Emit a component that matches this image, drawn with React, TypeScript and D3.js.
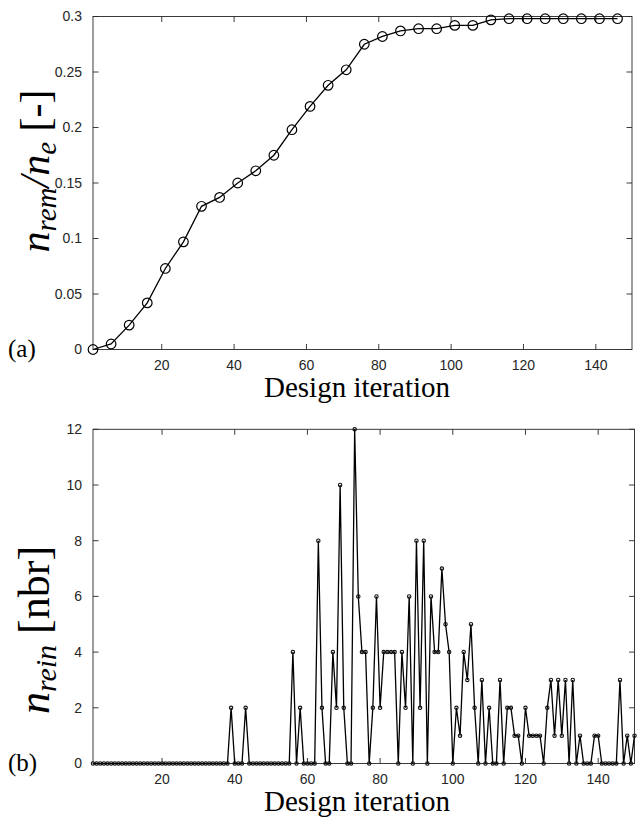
import React from "react";
import * as d3 from "d3";

// ---- Data ----
const topIterations = [1, 6, 11, 16, 21, 26, 31, 36, 41, 46, 51, 56, 61, 66, 71, 76, 81, 86, 91, 96, 101, 106, 111, 116, 121, 126, 131, 136, 141, 146];
const removedRatio = [0, 0.005, 0.022, 0.042, 0.073, 0.097, 0.129, 0.137, 0.15, 0.161, 0.175, 0.198, 0.219, 0.238, 0.252, 0.275, 0.282, 0.287, 0.289, 0.289, 0.292, 0.292, 0.297, 0.298, 0.298, 0.298, 0.298, 0.298, 0.298, 0.298];

const reinCounts = [
  0, 0, 0, 0, 0, 0, 0, 0, 0, 0,
  0, 0, 0, 0, 0, 0, 0, 0, 0, 0,
  0, 0, 0, 0, 0, 0, 0, 0, 0, 0,
  0, 0, 0, 0, 0, 0, 0, 0, 2, 0,
  0, 0, 2, 0, 0, 0, 0, 0, 0, 0,
  0, 0, 0, 0, 0, 4, 0, 2, 0, 0,
  0, 0, 8, 2, 0, 0, 4, 2, 10, 2,
  0, 0, 12, 6, 4, 4, 0, 2, 6, 2,
  4, 4, 4, 4, 0, 4, 2, 6, 0, 8,
  2, 8, 0, 6, 4, 4, 7, 5, 4, 0,
  2, 1, 4, 3, 5, 2, 0, 3, 0, 2,
  0, 0, 3, 0, 2, 2, 1, 1, 0, 2,
  1, 1, 1, 1, 0, 2, 3, 1, 3, 1,
  3, 0, 3, 0, 1, 0, 0, 0, 1, 1,
  0, 0, 0, 0, 0, 3, 0, 1, 0, 1,
];
const reinIterations = reinCounts.map((_, i) => i + 1);

const xTicks = [20, 40, 60, 80, 100, 120, 140];
const topYTicks = [0, 0.05, 0.1, 0.15, 0.2, 0.25, 0.3];
const topYLabels = ["0", "0.05", "0.1", "0.15", "0.2", "0.25", "0.3"];
const botYTicks = [0, 2, 4, 6, 8, 10, 12];

const AX = "#262626";
const TICKFONT = "'Liberation Sans', Arial, sans-serif";
const SERIF = "'Liberation Serif', 'Times New Roman', serif";

type FrameProps = {
  x: d3.ScaleLinear<number, number>;
  y: d3.ScaleLinear<number, number>;
  yTicks: number[];
  yLabels: string[];
};

function Frame({ x, y, yTicks, yLabels }: FrameProps) {
  const [x0, x1] = x.range();
  const [y0, y1] = y.range(); // y0 bottom, y1 top
  const tl = 5.5;
  return (
    <g>
      <rect x={x0} y={y1} width={x1 - x0} height={y0 - y1} fill="none" stroke={AX} strokeWidth={0.9} />
      {xTicks.map((t) => (
        <g key={"x" + t}>
          <line x1={x(t)} x2={x(t)} y1={y0} y2={y0 - tl} stroke={AX} strokeWidth={0.9} />
          <line x1={x(t)} x2={x(t)} y1={y1} y2={y1 + tl} stroke={AX} strokeWidth={0.9} />
          <text x={x(t)} y={y0 + 20} textAnchor="middle" fontFamily={TICKFONT} fontSize={14} fill={AX}>
            {t}
          </text>
        </g>
      ))}
      {yTicks.map((t, i) => (
        <g key={"y" + t}>
          <line x1={x0} x2={x0 + tl} y1={y(t)} y2={y(t)} stroke={AX} strokeWidth={0.9} />
          <line x1={x1} x2={x1 - tl} y1={y(t)} y2={y(t)} stroke={AX} strokeWidth={0.9} />
          <text x={x0 - 11} y={y(t)} dy="0.35em" textAnchor="end" fontFamily={TICKFONT} fontSize={14} fill={AX}>
            {yLabels[i]}
          </text>
        </g>
      ))}
    </g>
  );
}

export default function App() {
  const W = 640;
  const H = 820;

  const xTop = d3.scaleLinear().domain([1, 150]).range([93, 632]);
  const yTop = d3.scaleLinear().domain([0, 0.3]).range([349.5, 16.5]);
  const xBot = d3.scaleLinear().domain([1, 150]).range([93, 634.5]);
  const yBot = d3.scaleLinear().domain([0, 12]).range([763.5, 429.3]);

  const topLine = d3
    .line<number>()
    .x((_, i) => xTop(topIterations[i]))
    .y((d) => yTop(d))(removedRatio) as string;

  const botLine = d3
    .line<number>()
    .x((_, i) => xBot(reinIterations[i]))
    .y((d) => yBot(d))(reinCounts) as string;

  return (
    <svg width={W} height={H} viewBox={`0 0 ${W} ${H}`} style={{ display: "block", position: "absolute", left: 0, top: 0, background: "#fff" }}>
      <rect width={W} height={H} fill="#fff" />

      {/* ---- Panel (a) ---- */}
      <Frame x={xTop} y={yTop} yTicks={topYTicks} yLabels={topYLabels} />
      <path d={topLine} fill="none" stroke="#000" strokeWidth={1.3} />
      {removedRatio.map((v, i) => (
        <circle key={"c" + i} cx={xTop(topIterations[i])} cy={yTop(v)} r={4.8} fill="none" stroke="#000" strokeWidth={1.2} />
      ))}
      <text x={357} y={397} textAnchor="middle" fontFamily={SERIF} fontSize={29} fill="#000">
        Design iteration
      </text>
      <text x={8} y={357} fontFamily={SERIF} fontSize={25} fill="#000">(a)</text>
      <text transform="translate(49,171) rotate(-90)" textAnchor="middle" fontFamily={SERIF} fontSize={42} fill="#000">
        <tspan fontStyle="italic">n</tspan>
        <tspan fontStyle="italic" fontSize={29} dy={7}>rem</tspan>
        <tspan fontStyle="italic" dy={-7}>/n</tspan>
        <tspan fontStyle="italic" fontSize={29} dy={7}>e</tspan>
        <tspan dy={-7}>{"\u00A0[-]"}</tspan>
      </text>

      {/* ---- Panel (b) ---- */}
      <Frame x={xBot} y={yBot} yTicks={botYTicks} yLabels={botYTicks.map(String)} />
      <path d={botLine} fill="none" stroke="#000" strokeWidth={1.3} />
      {reinCounts.map((v, i) => (
        <circle key={"d" + i} cx={xBot(reinIterations[i])} cy={yBot(v)} r={1.7} fill="none" stroke="#111" strokeWidth={1.1} />
      ))}
      <text x={357} y={811} textAnchor="middle" fontFamily={SERIF} fontSize={29} fill="#000">
        Design iteration
      </text>
      <text x={8} y={771} fontFamily={SERIF} fontSize={25} fill="#000">(b)</text>
      <text transform="translate(49,630) rotate(-90)" textAnchor="middle" fontFamily={SERIF} fontSize={44} fill="#000">
        <tspan fontStyle="italic">n</tspan>
        <tspan fontStyle="italic" fontSize={30} dy={7}>rein</tspan>
        <tspan dy={-7}>{"\u00A0[nbr]"}</tspan>
      </text>
    </svg>
  );
}
